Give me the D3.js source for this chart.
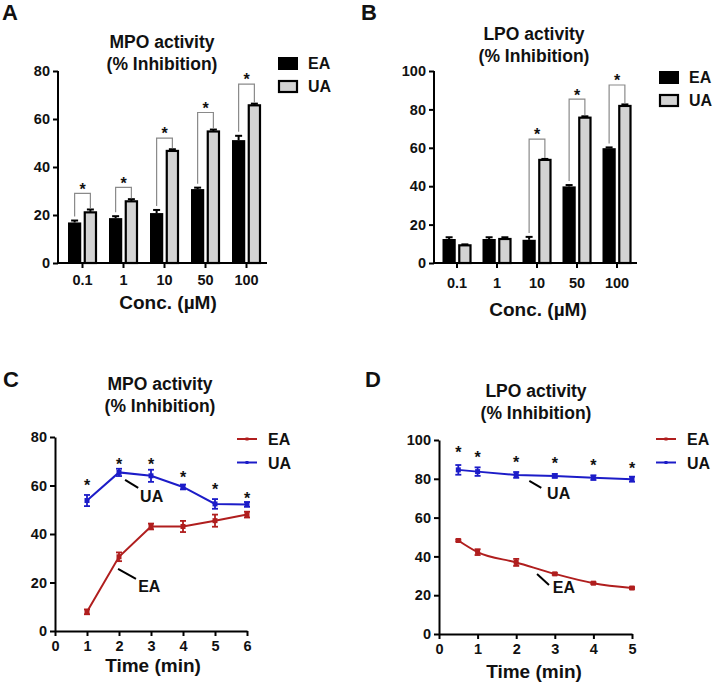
<!DOCTYPE html>
<html>
<head>
<meta charset="utf-8">
<script src="https://cdn.jsdelivr.net/npm/d3@7"></script>
<style>
  body { margin: 0; background: #fff; }
  text { font-family: Arial, "Liberation Sans", Helvetica, sans-serif; font-weight: bold; fill: #111; }
</style>
</head>
<body>
<script>
// ---------- DATA ----------
const concCats = ["0.1", "1", "10", "50", "100"];
const seriesNames = ["EA", "UA"];

// Panel A: MPO activity (% inhibition) vs concentration
const mpoEA = [16.9, 18.7, 20.8, 30.8, 51.2];
const mpoEAErr = [0.8, 0.8, 1.3, 0.6, 1.8];
const mpoUA = [21.1, 25.7, 46.7, 54.8, 65.7];
const mpoUAErr = [1.2, 0.9, 0.7, 0.8, 0.7];
const mpoSigLevel = [29, 31.5, 52, 62.7, 74.5];   // bracket heights (null = none)
const mpoYTicks = [0, 20, 40, 60, 80];

// Panel B: LPO activity (% inhibition) vs concentration
const lpoEA = [12.5, 12.5, 12.1, 39.9, 59.8];
const lpoEAErr = [0.9, 0.9, 1.5, 0.7, 0.4];
const lpoUA = [9.2, 12.5, 53.7, 75.7, 81.8];
const lpoUAErr = [0.5, 0.9, 0.5, 0.7, 0.8];
const lpoSigLevel = [null, null, 64.5, 85.3, 92.7];
const lpoYTicks = [0, 20, 40, 60, 80, 100];

// Panel C: MPO activity vs time
const timeC = [1, 2, 3, 4, 5, 6];
const mpoTimeEA = [7.9, 30.6, 43.1, 43.1, 45.5, 48.0];
const mpoTimeEAErr = [1.0, 1.8, 1.2, 2.3, 2.5, 1.2];
const mpoTimeUA = [53.8, 65.4, 64.0, 59.4, 52.4, 52.2];
const mpoTimeUAErr = [2.3, 1.5, 2.5, 1.0, 2.0, 1.0];
const mpoTimeStar = [61.5, 70.2, 70.2, 64.7, 59.8, 56.3];
const timeCTicks = [0, 1, 2, 3, 4, 5, 6];

// Panel D: LPO activity vs time
const timeD = [0.5, 1, 2, 3, 4, 5];
const lpoTimeEA = [48.2, 42.2, 36.9, 31.0, 26.2, 23.7];
const lpoTimeEAErr = [0.5, 1.5, 1.8, 0.5, 0.5, 0.5];
const lpoTimeUA = [84.6, 83.7, 82.0, 81.5, 80.6, 79.8];
const lpoTimeUAErr = [2.5, 2.2, 1.5, 1.0, 1.2, 1.3];
const lpoTimeStar = [95.7, 93.1, 90.6, 89.7, 88.9, 87.1];
const timeDTicks = [0, 1, 2, 3, 4, 5];

// ---------- DRAWING ----------
const RED = "#b01e1e", BLUE = "#1c1cc8", GREY_BAR = "#d3d3d3";
const TICK_FS = "14.5px";
const svg = d3.select("body").append("svg").attr("width", 714).attr("height", 685);

function starAt(g, x, yc, fs) {
  g.append("text").attr("x", x).attr("y", yc + fs * 0.58)
    .attr("text-anchor", "middle").style("font-size", fs + "px").text("*");
}

function styleAxis(ax) {
  ax.attr("font-size", null).attr("font-family", null);
  ax.selectAll("path, line").attr("stroke", "#000").attr("stroke-width", 2);
  ax.selectAll("text").style("font-size", TICK_FS).attr("fill", "#111");
}

function barPanel(o) {
  const g = svg.append("g");
  const x = d3.scaleBand().domain(concCats).range(o.xRange);
  const bw = x.bandwidth();
  const x1 = d3.scaleBand().domain(seriesNames).range([bw / 2 - 14.5, bw / 2 + 14.5]).paddingInner(0.16);
  const y = d3.scaleLinear().domain([0, o.yMax]).range(o.yRange);
  const ea = o.ea, ua = o.ua;

  concCats.forEach((c, i) => {
    const xe = x(c) + x1("EA"), xu = x(c) + x1("UA"), w = x1.bandwidth();
    g.append("rect").attr("x", xe).attr("y", y(ea[i])).attr("width", w)
      .attr("height", y(0) - y(ea[i])).attr("fill", "#000");
    g.append("rect").attr("x", xu + 1).attr("y", y(ua[i])).attr("width", w - 2)
      .attr("height", y(0) - y(ua[i])).attr("fill", GREY_BAR).attr("stroke", "#000").attr("stroke-width", 2.2);
    [[xe + w / 2, ea[i], o.eaErr[i]], [xu + w / 2, ua[i], o.uaErr[i]]].forEach(([cx, v, e]) => {
      g.append("line").attr("x1", cx).attr("x2", cx).attr("y1", y(v)).attr("y2", y(v + e))
        .attr("stroke", "#000").attr("stroke-width", 2);
      g.append("line").attr("x1", cx - 3.5).attr("x2", cx + 3.5).attr("y1", y(v + e)).attr("y2", y(v + e))
        .attr("stroke", "#000").attr("stroke-width", 2);
    });
    const s = o.sig[i];
    if (s != null) {
      const cxe = xe + w / 2, cxu = xu + w / 2;
      g.append("path")
        .attr("d", `M${cxe},${y(ea[i] + o.eaErr[i]) - 4}V${y(s)}H${cxu}V${y(ua[i] + o.uaErr[i]) - 1}`)
        .attr("fill", "none").attr("stroke", "#8a8a8a").attr("stroke-width", 1.2);
      starAt(g, (cxe + cxu) / 2, y(s) - 8, 16);
    }
  });

  const yAx = g.append("g").attr("transform", `translate(${o.yAxisX},0)`)
    .call(d3.axisLeft(y).tickValues(o.yTicks).tickSize(5).tickPadding(3).tickSizeOuter(0));
  styleAxis(yAx);
  yAx.select(".domain").attr("d", `M0,${o.yRange[0]}V${o.yRange[1]}`);
  const xAx = g.append("g").attr("transform", `translate(0,${o.yRange[0]})`)
    .call(d3.axisBottom(x).tickSize(5).tickPadding(o.xPad).tickSizeOuter(0));
  styleAxis(xAx);
  xAx.select(".domain").attr("d", `M${o.yAxisX},0H${o.xRange[1]}`);

  g.append("text").attr("x", o.titleX).attr("y", o.titleY).attr("text-anchor", "middle")
    .style("font-size", "17.5px").text(o.title);
  g.append("text").attr("x", o.titleX).attr("y", o.titleY + 22).attr("text-anchor", "middle")
    .style("font-size", "17.5px").text("(% Inhibition)");
  g.append("text").attr("x", o.xTitleX).attr("y", o.xTitleY).attr("text-anchor", "middle")
    .style("font-size", "19px").text("Conc. (\u00B5M)");
  g.append("text").attr("x", o.letterX).attr("y", 20).style("font-size", "22px").text(o.letter);

  seriesNames.forEach((n, k) => {
    const ly = o.legY + k * 23;
    g.append("rect").attr("x", o.legX + (k ? 1 : 0)).attr("y", ly + (k ? 1 : 0))
      .attr("width", k ? 18 : 20).attr("height", k ? 11 : 13)
      .attr("fill", k ? GREY_BAR : "#000").attr("stroke", k ? "#000" : "none").attr("stroke-width", 2.2);
    g.append("text").attr("x", o.legX + 30).attr("y", ly + 12).style("font-size", "16px").text(n);
  });
}

barPanel({
  ea: mpoEA, eaErr: mpoEAErr, ua: mpoUA, uaErr: mpoUAErr, sig: mpoSigLevel,
  yMax: 80, yTicks: mpoYTicks, xRange: [62, 267], yRange: [263, 71], yAxisX: 58, xPad: 7,
  title: "MPO activity", titleX: 162, titleY: 48, xTitleX: 168, xTitleY: 309, letter: "A", letterX: 2,
  legX: 278, legY: 57
});
barPanel({
  ea: lpoEA, eaErr: lpoEAErr, ua: lpoUA, uaErr: lpoUAErr, sig: lpoSigLevel,
  yMax: 100, yTicks: lpoYTicks, xRange: [437, 637], yRange: [263, 71], yAxisX: 434, xPad: 10,
  title: "LPO activity", titleX: 534, titleY: 40, xTitleX: 538, xTitleY: 316, letter: "B", letterX: 361,
  legX: 659, legY: 71
});

function linePanel(o) {
  const g = svg.append("g");
  const x = d3.scaleLinear().domain([0, o.xMax]).range(o.xRange);
  const y = d3.scaleLinear().domain([0, o.yMax]).range(o.yRange);

  const yAx = g.append("g").attr("transform", `translate(${o.xRange[0]},0)`)
    .call(d3.axisLeft(y).tickValues(o.yTicks).tickFormat(d3.format("d")).tickSize(5).tickPadding(3).tickSizeOuter(0));
  styleAxis(yAx);
  const xAx = g.append("g").attr("transform", `translate(0,${o.yRange[0]})`)
    .call(d3.axisBottom(x).tickValues(o.xTicks).tickFormat(d3.format("d")).tickSize(5).tickPadding(5).tickSizeOuter(0));
  styleAxis(xAx);

  const series = [
    { name: "EA", v: o.ea, e: o.eaErr, c: RED, curve: o.eaCurve },
    { name: "UA", v: o.ua, e: o.uaErr, c: BLUE, curve: d3.curveLinear }
  ];
  series.forEach(s => {
    const pts = o.t.map((t, i) => [t, s.v[i], s.e[i]]);
    g.append("path").datum(pts)
      .attr("d", d3.line().x(d => x(d[0])).y(d => y(d[1])).curve(s.curve))
      .attr("fill", "none").attr("stroke", s.c).attr("stroke-width", 2);
    pts.forEach(([t, v, e]) => {
      const cx = x(t);
      g.append("line").attr("x1", cx).attr("x2", cx).attr("y1", y(v - e)).attr("y2", y(v + e))
        .attr("stroke", s.c).attr("stroke-width", 1.8);
      [v - e, v + e].forEach(vv => g.append("line").attr("x1", cx - 3).attr("x2", cx + 3)
        .attr("y1", y(vv)).attr("y2", y(vv)).attr("stroke", s.c).attr("stroke-width", 1.8));
      g.append("rect").attr("x", cx - 2.5).attr("y", y(v) - 2.5).attr("width", 5).attr("height", 5).attr("fill", s.c);
    });
  });
  o.t.forEach((t, i) => starAt(g, x(t), y(o.star[i]), 16));

  o.labels.forEach(L => {
    g.append("line").attr("x1", x(L.x1)).attr("y1", y(L.y1)).attr("x2", x(L.x2)).attr("y2", y(L.y2))
      .attr("stroke", "#000").attr("stroke-width", 2);
    g.append("text").attr("x", x(L.tx)).attr("y", y(L.ty)).style("font-size", "16px").text(L.text);
  });

  g.append("text").attr("x", o.titleX).attr("y", o.titleY).attr("text-anchor", "middle")
    .style("font-size", "17.5px").text(o.title);
  g.append("text").attr("x", o.titleX).attr("y", o.titleY + 22).attr("text-anchor", "middle")
    .style("font-size", "17.5px").text("(% Inhibition)");
  g.append("text").attr("x", o.xTitleX).attr("y", o.xTitleY).attr("text-anchor", "middle")
    .style("font-size", "19px").text("Time (min)");
  g.append("text").attr("x", o.letterX).attr("y", 387).style("font-size", "22px").text(o.letter);

  series.forEach((s, k) => {
    const ly = o.legY + k * 23.5;
    g.append("line").attr("x1", o.legX).attr("x2", o.legX + 20).attr("y1", ly).attr("y2", ly)
      .attr("stroke", s.c).attr("stroke-width", 2);
    g.append("rect").attr("x", o.legX + 8.5).attr("y", ly - 1.5).attr("width", 3).attr("height", 3).attr("fill", s.c);
    g.append("text").attr("x", o.legX + 31).attr("y", ly + 6).style("font-size", "16px").text(s.name);
  });
}

linePanel({
  t: timeC, ea: mpoTimeEA, eaErr: mpoTimeEAErr, ua: mpoTimeUA, uaErr: mpoTimeUAErr, star: mpoTimeStar,
  xMax: 6, yMax: 80, xTicks: timeCTicks, yTicks: mpoYTicks, xRange: [55, 247], yRange: [631, 437],
  eaCurve: d3.curveLinear,
  labels: [
    { x1: 2.19, y1: 62.3, x2: 2.6, y2: 59.0, tx: 2.66, ty: 53.4, text: "UA" },
    { x1: 1.97, y1: 25.6, x2: 2.53, y2: 21.5, tx: 2.6, ty: 16.2, text: "EA" }
  ],
  title: "MPO activity", titleX: 160, titleY: 390, xTitleX: 153, xTitleY: 672, letter: "C", letterX: 3,
  legX: 237, legY: 439
});
linePanel({
  t: timeD, ea: lpoTimeEA, eaErr: lpoTimeEAErr, ua: lpoTimeUA, uaErr: lpoTimeUAErr, star: lpoTimeStar,
  xMax: 5, yMax: 100, xTicks: timeDTicks, yTicks: lpoYTicks, xRange: [439, 632], yRange: [634, 440],
  eaCurve: d3.curveMonotoneX,
  labels: [
    { x1: 2.34, y1: 78.9, x2: 2.65, y2: 75.3, tx: 2.8, ty: 69.6, text: "UA" },
    { x1: 2.54, y1: 30.9, x2: 2.85, y2: 25.3, tx: 2.95, ty: 21.1, text: "EA" }
  ],
  title: "LPO activity", titleX: 536, titleY: 397, xTitleX: 534, xTitleY: 678, letter: "D", letterX: 365,
  legX: 656, legY: 439
});
</script>
</body>
</html>
